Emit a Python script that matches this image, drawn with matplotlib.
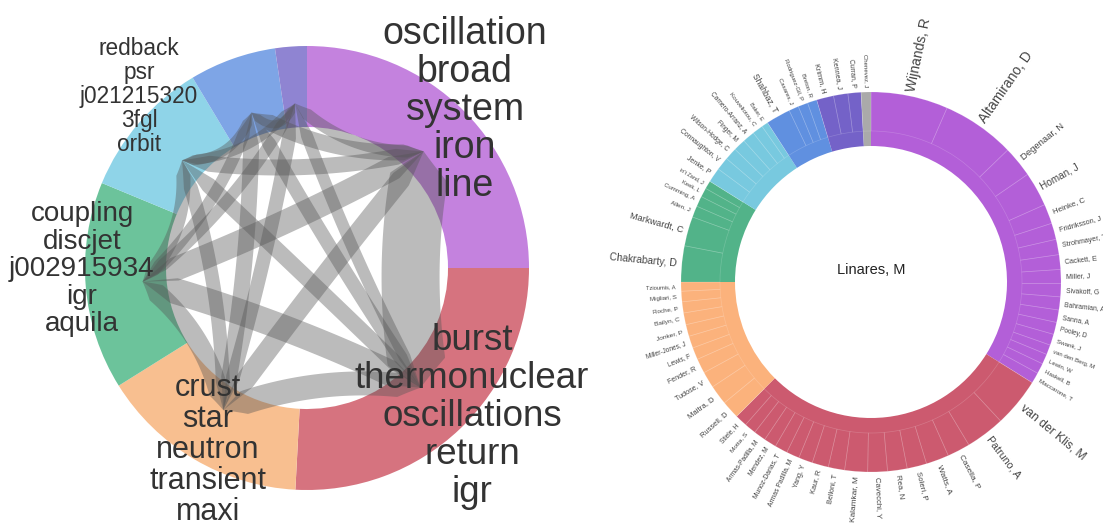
import numpy as np
import matplotlib
matplotlib.use('Agg')
import matplotlib.pyplot as plt
from matplotlib.patches import Wedge

plt.rcParams['font.family'] = ['Liberation Sans', 'DejaVu Sans']

W, H = 1103, 523

# ---- left: topic chord diagram ----
topic_words = [
    ['oscillation', 'broad', 'system', 'iron', 'line'],
    ['burst', 'thermonuclear', 'oscillations', 'return', 'igr'],
    ['crust', 'star', 'neutron', 'transient', 'maxi'],
    ['coupling', 'discjet', 'j002915934', 'igr', 'aquila'],
    ['redback', 'psr', 'j021215320', '3fgl', 'orbit'],
    [],
    [],
]
topic_size = [90, 93, 55, 54.5, 36.5, 22.7, 8.3]
# (topic a, topic b, link width)
topic_links = [
    (0, 1, 58), (0, 2, 20), (0, 3, 24), (0, 4, 16), (0, 5, 16), (0, 6, 12),
    (1, 2, 24), (1, 3, 26), (1, 4, 16), (1, 5, 14), (1, 6, 12),
    (2, 3, 20), (2, 4, 14), (2, 5, 16), (2, 6, 14),
    (3, 4, 14), (3, 5, 12), (3, 6, 12),
    (4, 5, 10), (4, 6, 10), (5, 6, 8),
]

# ---- right: co-author sunburst ----
centre_name = 'Linares, M'
auth_purple = ['Wijnands, R', 'Altamirano, D', 'Degenaar, N', 'Homan, J', 'Heinke, C',
               'Fridriksson, J', 'Strohmayer, T', 'Cackett, E', 'Miller, J', 'Sivakoff, G',
               'Bahramian, A', 'Sanna, A', 'Pooley, D', 'Swank, J', 'van den Berg, M',
               'Lewin, W', 'Haskell, B', 'Maccarone, T']
w_purple = [23.6, 22.4, 9.5, 10.5, 6, 5, 4.7, 4.5, 4.3, 4, 4, 3.8, 3.7, 3.4, 3, 3.1, 3.2, 3.3]
auth_red = ['van der Klis, M', 'Patruno, A', 'Casella, P', 'Watts, A', 'Soleri, P', 'Rea, N',
            'Cavecchi, Y', 'Kalamkar, M', 'Belloni, T', 'Kaur, R', 'Yang, Y',
            'Armas Padilla, M', 'Munoz-Darias, T', 'Mendez, M', 'Armas-Padilla, M',
            'Motta, S', 'Stiele, H']
w_red = [15, 12, 7, 7, 6, 6, 6, 7, 5, 5, 4.3, 4, 3.9, 3.8, 3.7, 3.6, 3.7]
auth_orange = ['Russell, D', 'Maitra, D', 'Tudose, V', 'Fender, R', 'Lewis, F',
               'Miller-Jones, J', 'Jonker, P', 'Bailyn, C', 'Roche, P', 'Migliari, S',
               'Tzioumis, A']
w_orange = [5.5, 6, 5, 4.5, 3.7, 3.7, 3.6, 3.6, 3.4, 3.2, 2.8]
auth_green = ['Chakrabarty, D', 'Markwardt, C', 'Allen, J', 'Cumming, A', 'Keek, L', "in't Zand, J"]
w_green = [11, 9, 3.5, 3.2, 2.8, 2.5]
auth_cyan = ['Jenke, P', 'Connaughton, V', 'Wilson-Hodge, C', 'Finger, M',
             'Camero-Arranz, A', 'Kouveliotou, C', 'Baker, E']
w_cyan = [4.5, 4, 3.8, 3.7, 3.7, 3.3, 2]
auth_blue = ['Shahbaz, T', 'Casares, J', 'Rodriguez-Gil, P', 'Breton, R']
w_blue = [7.5, 3, 3, 2.9]
auth_violet = ['Krimm, H', 'Kennea, J', 'Curran, P']
w_violet = [5.2, 4.4, 4]
auth_gray = ['Chenevez, J']
w_gray = [3]

groups = [(auth_purple, w_purple), (auth_red, w_red), (auth_orange, w_orange),
          (auth_green, w_green), (auth_cyan, w_cyan), (auth_blue, w_blue),
          (auth_violet, w_violet), (auth_gray, w_gray)]

# colours
left_cols = ['#c482de', '#d6737f', '#f8bf90', '#6cc39b', '#8fd4e8', '#7ea5e6', '#8f84d2']
right_cols = ['#b35fd8', '#cc5a6f', '#fbb27c', '#52b389', '#78c9df', '#6090e0', '#7462c8', '#aaaaaa']

# label layout for the left chart: centre (px from top-left), font size (pt), line step (px)
left_lab = [((465, 108), 27, 38), ((472, 414), 26.5, 38), ((208, 448), 22, 31),
            ((82, 267), 20, 27.5), ((139, 96), 16.3, 24), None, None]

fig = plt.figure(figsize=(W / 100, H / 100), dpi=100)
ax = fig.add_axes([0, 0, 1, 1])
ax.set_xlim(0, W)
ax.set_ylim(0, H)
ax.axis('off')


def pos(c, r, th):
    ph = np.radians(90 - th)
    return np.array([c[0] + r * np.cos(ph), c[1] + r * np.sin(ph)])


def ribbon(a, b, c, w):
    t = np.linspace(0, 1, 120)[:, None]
    pts = (1 - t) ** 2 * a + 2 * (1 - t) * t * c + t ** 2 * b
    d = 2 * (1 - t) * (c - a) + 2 * t * (b - c)
    n = np.column_stack([-d[:, 1], d[:, 0]])
    n /= np.linalg.norm(n, axis=1)[:, None]
    half = w / 2 * np.clip(np.minimum(t[:, 0], 1 - t[:, 0]) / 0.11, 0, 1)
    poly = np.vstack([pts + n * half[:, None], (pts - n * half[:, None])[::-1]])
    ax.fill(poly[:, 0], poly[:, 1], color='#555555', alpha=0.4, lw=0)


# left ring
lc = np.array([307, H - 268])
r_out, r_in = 222, 141
edges = np.concatenate([[0], np.cumsum(topic_size)]) * 360 / sum(topic_size)
for i, col in enumerate(left_cols):
    ax.add_patch(Wedge(lc, r_out, 90 - edges[i + 1], 90 - edges[i],
                       width=r_out - r_in, color=col, lw=0))

mids = (edges[:-1] + edges[1:]) / 2
hubs = [pos(lc, 165, m) for m in mids]
for a, b, w in topic_links:
    m = (hubs[a] + hubs[b]) / 2
    ribbon(hubs[a], hubs[b], lc + 0.8 * (m - lc), w)

for words, lab in zip(topic_words, left_lab):
    if not words:
        continue
    (cx, cy), fs, step = lab
    n = len(words)
    for k, wd in enumerate(words):
        yl = cy + (k - (n - 1) / 2) * step + 0.33 * fs * 100 / 72
        ax.text(cx, H - yl, wd, fontsize=fs, color='#333333', ha='center', va='baseline')

# right sunburst
rc = (871, H - 282)
R_out, R_mid, R_in = 190, 151, 136
start = 0.0
for (names, ws), col in zip(groups, right_cols):
    tot = sum(ws)
    ax.add_patch(Wedge(rc, R_out, 90 - (start + tot), 90 - start,
                       width=R_out - R_in, color=col, lw=0))
    a0 = start
    for nm, w in zip(names, ws):
        ax.add_patch(Wedge(rc, R_out, 90 - (a0 + w), 90 - a0, width=R_out - R_mid,
                           facecolor='none', edgecolor=(1, 1, 1, 0.18), lw=0.5))
        th = a0 + w / 2
        fs = np.interp(w, [2.5, 4, 6, 10, 15, 23], [4.0, 4.9, 5.6, 7, 8.7, 10])
        x, y = pos(rc, R_out + 5, th)
        if th <= 180:
            rot, ha = 90 - th, 'left'
        else:
            rot, ha = 270 - th, 'right'
        ax.text(x, y, nm, fontsize=fs, color='#444444', rotation=rot,
                rotation_mode='anchor', ha=ha, va='center')
        a0 += w
    start += tot

ax.text(rc[0], H - 270, centre_name, fontsize=10.5, color='#222222', ha='center', va='center')

fig.savefig('out.png', dpi=100)
